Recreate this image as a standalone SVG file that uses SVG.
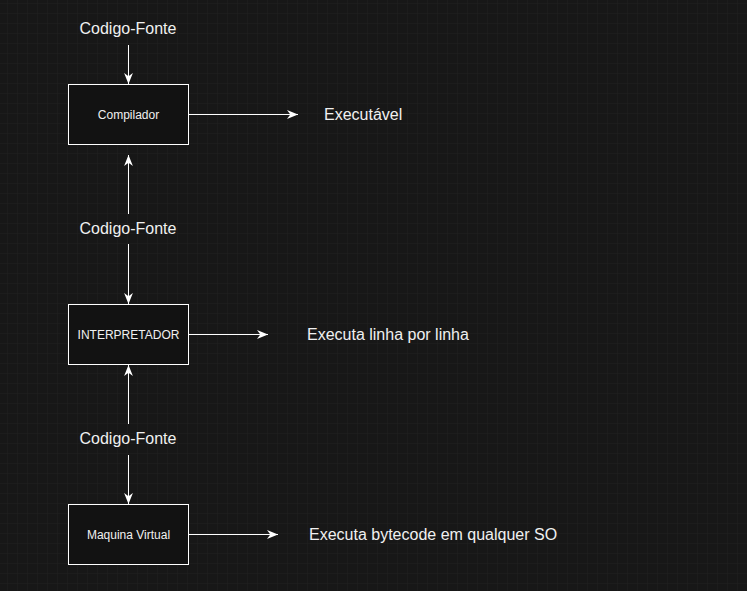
<svg xmlns="http://www.w3.org/2000/svg" width="747" height="591" viewBox="0 0 747 591">
<defs>
<pattern id="minor" width="10" height="10" patternUnits="userSpaceOnUse" x="-2" y="-6">
<path d="M10,0 V10 M0,10 H10" fill="none" stroke="#1f1f1f" stroke-width="1"/>
</pattern>
<pattern id="major" width="40" height="40" patternUnits="userSpaceOnUse" x="-12" y="-6">
<path d="M40.5,0 V40 M0,40.5 H40" fill="none" stroke="#2c2c2c" stroke-width="1"/>
</pattern>
<marker id="arr" viewBox="0 0 10 8" refX="10" refY="4" markerWidth="11" markerHeight="9" markerUnits="userSpaceOnUse" orient="auto">
<path d="M0,0 L10,4 L0,8 L3,4 Z" fill="#ffffff"/>
</marker>
<style>
.node rect { fill: #121212; stroke: #ffffff; stroke-width: 1; }
.node text { fill: #f0f0f0; font-family: "Liberation Sans", Arial, sans-serif; font-size: 12px; text-anchor: middle; }
.lbl { fill: #f0f0f0; font-family: "Liberation Sans", Arial, sans-serif; font-size: 16px; }
.mid { text-anchor: middle; }
#connectors line { stroke: #ffffff; stroke-width: 1; marker-end: url(#arr); }
</style>
</defs>
<rect width="747" height="591" fill="#171717"/>
<rect width="747" height="591" fill="url(#minor)"/>
<rect width="747" height="591" fill="url(#major)"/>

<g id="connectors">
<line x1="128.5" y1="45" x2="128.5" y2="84"/>
<line x1="188" y1="114.5" x2="298" y2="114.5"/>
<line x1="128.5" y1="214" x2="128.5" y2="155"/>
<line x1="128.5" y1="244" x2="128.5" y2="304"/>
<line x1="188" y1="334.5" x2="268" y2="334.5"/>
<line x1="128.5" y1="424" x2="128.5" y2="365"/>
<line x1="128.5" y1="455" x2="128.5" y2="504"/>
<line x1="188" y1="534.5" x2="278" y2="534.5"/>
</g>

<g id="label-codigo-fonte-1"><text class="lbl mid" x="128" y="34">Codigo-Fonte</text></g>
<g id="node-compilador" class="node">
<rect x="68.5" y="84.5" width="120" height="60"/>
<text x="128.5" y="118.5">Compilador</text>
</g>
<g id="label-executavel"><text class="lbl" x="324" y="120">Executável</text></g>

<g id="label-codigo-fonte-2"><text class="lbl mid" x="128" y="234">Codigo-Fonte</text></g>
<g id="node-interpretador" class="node">
<rect x="68.5" y="304.5" width="120" height="60"/>
<text x="128.5" y="338.5">INTERPRETADOR</text>
</g>
<g id="label-executa-linha"><text class="lbl" x="307" y="340">Executa linha por linha</text></g>

<g id="label-codigo-fonte-3"><text class="lbl mid" x="128" y="444">Codigo-Fonte</text></g>
<g id="node-maquina-virtual" class="node">
<rect x="68.5" y="504.5" width="120" height="60"/>
<text x="128.5" y="538.5">Maquina Virtual</text>
</g>
<g id="label-executa-bytecode"><text class="lbl" x="309" y="540">Executa bytecode em qualquer SO</text></g>
</svg>
